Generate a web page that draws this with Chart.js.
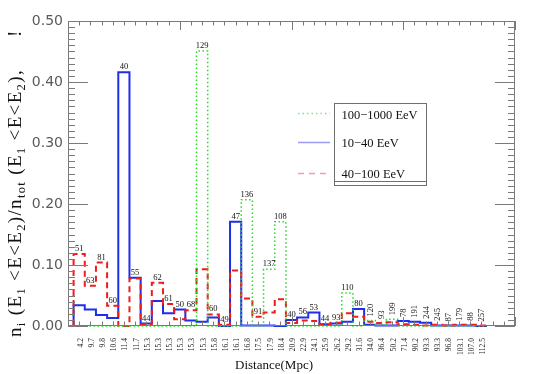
<!DOCTYPE html>
<html><head><meta charset="utf-8">
<script src="https://cdn.jsdelivr.net/npm/chart.js@4/dist/chart.umd.min.js"></script>
<style>html,body{margin:0;padding:0;background:#fff}#wrap{width:536px;height:374px;position:relative}</style>
</head><body><div id="wrap"><canvas id="c" width="536" height="374"></canvas></div>
<script>
// ---- data ----
const distanceLabels = ["4.2","9.7","9.8","10.6","11.4","11.7","15.3","15.3","15.3","15.3","15.3","15.3","15.8","16.1","16.1","16.8","17.5","17.9","18.4","20.9","22.9","24.1","25.9","26.2","29.2","31.6","34.0","36.4","50.2","71.4","90.2","93.3","93.3","96.8","103.1","107.0","112.5"];
const eventCounts = [51,63,81,60,40,55,44,62,61,50,68,129,60,49,47,136,91,137,108,40,56,53,44,93,110,80,120,93,199,78,191,244,245,87,179,88,257];
const e100_1000 = [0,0,0,0,0,0,0,0,0,0,0,0.451,0,0,0,0.207,0,0.093,0.171,0,0,0,0,0,0.054,0,0.009,0.002,0.011,0,0,0,0,0,0,0,0];
const e10_40 = [0.034,0.027,0.018,0.013,0.416,0.079,0.004,0.041,0.021,0.027,0.009,0.007,0.014,0,0.171,0.001,0.001,0.001,0,0.010,0.014,0.022,0.003,0.004,0.007,0.028,0.002,0.001,0.001,0.008,0.007,0.0055,0.001,0.001,0.001,0.001,0];
const e40_100 = [0.118,0.066,0.104,0.033,0,0.078,0.003,0.071,0.036,0.011,0.026,0.093,0.019,0.002,0.091,0.045,0.015,0.022,0.044,0.005,0.009,0.008,0.002,0.0055,0.021,0.015,0.007,0.005,0.006,0.003,0.002,0.001,0.002,0.001,0.002,0.002,0.001];
const seriesNames = ["100\u22121000 EeV","10\u221240 EeV","40\u2212100 EeV"];
const yTickValues = [0,0.1,0.2,0.3,0.4,0.5];
const xTitle = "Distance(Mpc)";

// histogram outline points from bin values (bin k centred on k)
function histPoints(vals){
  const pts=[{x:0.5,y:0}];
  vals.forEach((v,i)=>{pts.push({x:i+0.5,y:v});pts.push({x:i+1.5,y:v});});
  pts.push({x:vals.length+0.5,y:0});
  return pts;
}

const SERIF='"Liberation Serif","DejaVu Serif",serif';

const decor={
  id:'decor',
  afterDraw(chart){
    const ctx=chart.ctx, xs=chart.scales.x, ys=chart.scales.y, a=chart.chartArea;
    ctx.save();
    // frame
    ctx.strokeStyle='#7a7a7a'; ctx.lineWidth=1;
    ctx.strokeRect(Math.round(a.left)+0.5,Math.round(a.top)+0.5,Math.round(a.right-a.left)-1,Math.round(a.bottom-a.top)-1);
    // y ticks (left & right)
    ctx.beginPath();
    for(let i=0;i<=50;i++){
      const v=i/100, y=Math.round(ys.getPixelForValue(v))+0.5;
      const len=(i%10===0)?20:7;
      ctx.moveTo(a.left,y);ctx.lineTo(a.left+len,y);
      ctx.moveTo(a.right,y);ctx.lineTo(a.right-len,y);
    }
    // x ticks (bottom & top)
    for(let k=0;k<=40;k++){
      const x=Math.round(xs.getPixelForValue(k))+0.5;
      const len=(k%10===0)?9:4.5;
      ctx.moveTo(x,a.bottom);ctx.lineTo(x,a.bottom-len);
      ctx.moveTo(x,a.top);ctx.lineTo(x,a.top+len);
    }
    ctx.stroke();

    // counts above bins
    ctx.fillStyle='#111';
    ctx.font='8.5px '+SERIF;
    eventCounts.forEach((c,i)=>{
      const m=Math.max(e100_1000[i],e10_40[i],e40_100[i]);
      const x=xs.getPixelForValue(i+1), y=ys.getPixelForValue(m);
      if(i<26){
        ctx.textAlign='center';ctx.textBaseline='alphabetic';
        ctx.fillText(String(c),x,y-3);
      }else{
        ctx.save();ctx.translate(x+3,y-4);ctx.rotate(-Math.PI/2);
        ctx.textAlign='left';ctx.textBaseline='alphabetic';
        ctx.fillText(String(c),0,0);ctx.restore();
      }
    });

    // x title
    ctx.font='13px '+SERIF; ctx.textAlign='center'; ctx.textBaseline='alphabetic'; ctx.fillStyle='#111';
    ctx.fillText(xTitle,274,369);

    // y title with subscripts
    const parts=[["n",0],["i",1],[" (E",0],["1",1],[" <E<E",0],["2",1],[")/n",0],["tot",1],[" (E",0],["1",1],[" <E<E",0],["2",1],["),",0]];
    const bigF='19px '+SERIF, smallF='12.5px '+SERIF;
    let natural=0, nch=0;
    parts.forEach(([t,s])=>{ctx.font=s?smallF:bigF;natural+=ctx.measureText(t).width;nch+=t.length;});
    const target=268, extra=(target-natural)/nch;
    ctx.save();ctx.translate(21,337);ctx.rotate(-Math.PI/2);
    ctx.textAlign='left';ctx.textBaseline='alphabetic';
    let px=0;
    parts.forEach(([t,s])=>{
      ctx.font=s?smallF:bigF;
      for(const ch of t){ctx.fillText(ch,px,s?4:0);px+=ctx.measureText(ch).width+extra;}
    });
    ctx.font=bigF; ctx.fillText("!",300,0);
    ctx.restore();

    // legend
    const lx0=298,lx1=330;
    const rows=[{y:113,col:'#7de87d',dash:[1.5,3],w:1.5,ty:118.5},{y:142,col:'#9a9cf2',dash:[],w:1.5,ty:146.5},{y:173,col:'#f4a0a0',dash:[6,5],w:1.5,ty:178}];
    rows.forEach((r,i)=>{
      ctx.beginPath();ctx.setLineDash(r.dash);ctx.strokeStyle=r.col;ctx.lineWidth=r.w;
      ctx.moveTo(lx0,r.y+0.5);ctx.lineTo(lx1,r.y+0.5);ctx.stroke();
      ctx.setLineDash([]);
      ctx.font='12.5px '+SERIF;ctx.fillStyle='#111';ctx.textAlign='left';ctx.textBaseline='alphabetic';
      ctx.fillText(seriesNames[i],341.5,r.ty);
    });
    ctx.strokeStyle='#6f6f6f';ctx.lineWidth=1;
    ctx.strokeRect(334.5,103.5,92,82);
    ctx.beginPath();ctx.moveTo(334.5,181.5);ctx.lineTo(426.5,181.5);ctx.stroke();
    ctx.restore();
  }
};

new Chart(document.getElementById('c'),{
  type:'line',
  data:{datasets:[
    {label:seriesNames[0],data:histPoints(e100_1000),borderColor:'#22dd22',borderWidth:1.5,borderDash:[1.5,2.5],pointRadius:0,tension:0,fill:false,clip:6,order:0},
    {label:seriesNames[2],data:histPoints(e40_100),borderColor:'#ee1c1c',borderWidth:2,borderDash:[6,4],pointRadius:0,tension:0,fill:false,clip:6,order:1},
    {label:seriesNames[1],data:histPoints(e10_40),borderColor:'#1f2ee8',borderWidth:2,pointRadius:0,tension:0,fill:false,clip:6,order:2}
  ]},
  options:{
    responsive:false,animation:false,
    layout:{padding:{top:21,right:8,left:0,bottom:0}},
    plugins:{legend:{display:false},tooltip:{enabled:false}},
    scales:{
      x:{type:'linear',min:0,max:40,
        grid:{display:false,drawTicks:false},border:{display:false},
        afterFit:s=>{s.height=48;},
        afterBuildTicks:s=>{s.ticks=[];for(let k=0;k<=40;k++)s.ticks.push({value:k});},
        ticks:{autoSkip:false,minRotation:90,maxRotation:90,padding:12,labelOffset:1.5,color:'#222',
          font:{family:'Liberation Serif',size:7.5},
          callback:v=>(v>=1&&v<=distanceLabels.length)?distanceLabels[v-1]:''}},
      y:{type:'linear',min:0,max:0.5,
        grid:{display:false,drawTicks:false},border:{display:false},
        afterFit:s=>{s.width=68;},
        afterBuildTicks:s=>{s.ticks=yTickValues.map(v=>({value:v}));},
        ticks:{padding:5,color:'#5a5a5a',font:{family:'DejaVu Sans',size:14},callback:v=>Number(v).toFixed(2)}}
    }
  },
  plugins:[decor]
});
</script></body></html>
